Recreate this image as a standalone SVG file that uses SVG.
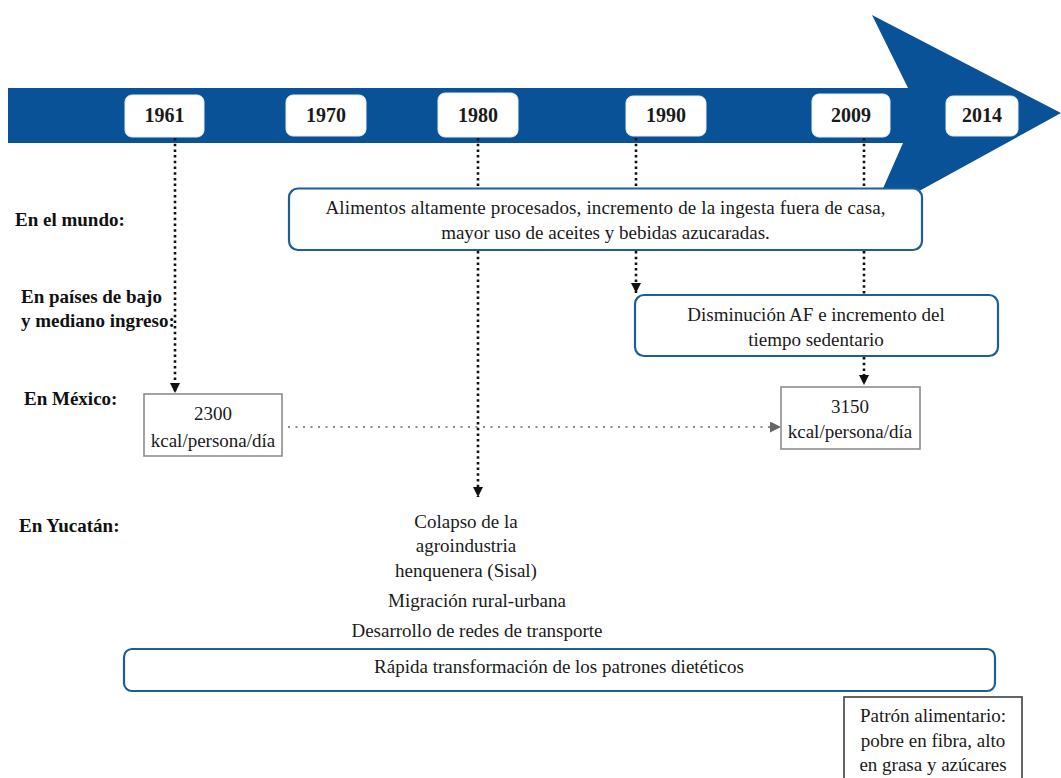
<svg xmlns="http://www.w3.org/2000/svg" width="1061" height="778" viewBox="0 0 1061 778">
<defs>
<style>
.yr{fill:#fff;stroke:#e8eef5;stroke-width:1}
.yt{font-family:"Liberation Serif","Times New Roman",serif;font-weight:bold;font-size:20px;fill:#1a1a1a;text-anchor:middle}
.lb{font-family:"Liberation Serif","Times New Roman",serif;font-weight:bold;font-size:19px;fill:#111}
.tx{font-family:"Liberation Serif","Times New Roman",serif;font-size:19px;fill:#1a1a1a;text-anchor:middle}
.bb{fill:#fff;stroke:#1f5d98;stroke-width:2.2}
.gb{fill:#fff;stroke:#8c8c8c;stroke-width:1.6}
.vd{stroke:#111;stroke-width:2.6;stroke-dasharray:2.5 3.2;fill:none}
.hd{stroke:#8a8a8a;stroke-width:2;stroke-dasharray:2 5.5;fill:none}
</style>
<marker id="ah" viewBox="0 0 10 10" refX="10" refY="5" markerWidth="10" markerHeight="10" markerUnits="userSpaceOnUse" orient="auto">
<path d="M0,0 L10,5 L0,10 Z" fill="#111"/>
</marker>
<marker id="ahg" viewBox="0 0 10 10" refX="10" refY="5" markerWidth="11" markerHeight="11" markerUnits="userSpaceOnUse" orient="auto">
<path d="M0,0 L10,5 L0,10 Z" fill="#666"/>
</marker>
</defs>
<rect width="1061" height="778" fill="#fff"/>

<g id="timeline">
<polygon points="8,88 908,88 872,15 1061,113 870,218 903,143 8,143" fill="#0a5297"/>
</g>

<g id="years">
<g id="y1961"><rect class="yr" x="125" y="95" width="79" height="42" rx="7"/><text class="yt" x="164.5" y="122">1961</text></g>
<g id="y1970"><rect class="yr" x="286" y="95" width="80" height="41" rx="7"/><text class="yt" x="326" y="122">1970</text></g>
<g id="y1980"><rect class="yr" x="438" y="93" width="80" height="44" rx="7"/><text class="yt" x="478" y="122">1980</text></g>
<g id="y1990"><rect class="yr" x="626" y="96" width="80" height="40" rx="7"/><text class="yt" x="666" y="122">1990</text></g>
<g id="y2009"><rect class="yr" x="812" y="94" width="78" height="43" rx="7"/><text class="yt" x="851" y="122">2009</text></g>
<g id="y2014"><rect class="yr" x="946" y="96" width="72" height="40" rx="7"/><text class="yt" x="982" y="122">2014</text></g>
</g>

<g id="connectors">
<line class="vd" x1="175" y1="138" x2="175" y2="393" marker-end="url(#ah)"/>
<line class="vd" x1="478" y1="138" x2="478" y2="188"/>
<line class="vd" x1="478" y1="251" x2="478" y2="497" marker-end="url(#ah)"/>
<line class="vd" x1="636" y1="138" x2="636" y2="188"/>
<line class="vd" x1="636" y1="251" x2="636" y2="293" marker-end="url(#ah)"/>
<line class="vd" x1="864" y1="138" x2="864" y2="188"/>
<line class="vd" x1="864" y1="251" x2="864" y2="294"/>
<line class="vd" x1="864" y1="357" x2="864" y2="385" marker-end="url(#ah)"/>
<line class="hd" x1="288" y1="427" x2="781" y2="427" marker-end="url(#ahg)"/>
</g>

<g id="labels">
<text class="lb" x="15" y="226">En el mundo:</text>
<text class="lb" x="21" y="303">En países de bajo</text>
<text class="lb" x="21" y="327">y mediano ingreso:</text>
<text class="lb" x="24" y="405">En México:</text>
<text class="lb" x="19" y="532">En Yucatán:</text>
</g>

<g id="mundo">
<rect class="bb" x="289" y="188.5" width="633" height="61.5" rx="9"/>
<text class="tx" x="605.5" y="214" textLength="560">Alimentos altamente procesados, incremento de la ingesta fuera de casa,</text>
<text class="tx" x="605.5" y="239">mayor uso de aceites y bebidas azucaradas.</text>
</g>

<g id="paises">
<rect class="bb" x="635" y="295" width="363" height="61" rx="9"/>
<text class="tx" x="816" y="321">Disminución AF e incremento del</text>
<text class="tx" x="816" y="346">tiempo sedentario</text>
</g>

<g id="mx2300">
<rect class="gb" x="144" y="394" width="138" height="62"/>
<text class="tx" x="213" y="420">2300</text>
<text class="tx" x="213" y="447">kcal/persona/día</text>
</g>

<g id="mx3150">
<rect class="gb" x="781" y="387" width="139" height="62"/>
<text class="tx" x="850" y="413">3150</text>
<text class="tx" x="850" y="438">kcal/persona/día</text>
</g>

<g id="yucatan">
<text class="tx" x="466" y="528">Colapso de la</text>
<text class="tx" x="466" y="552">agroindustria</text>
<text class="tx" x="466" y="577">henquenera (Sisal)</text>
<text class="tx" x="477" y="607">Migración rural-urbana</text>
<text class="tx" x="477" y="637">Desarrollo de redes de transporte</text>
</g>

<g id="rapida">
<rect class="bb" x="124" y="649" width="871" height="42" rx="8"/>
<text class="tx" x="559" y="673">Rápida transformación de los patrones dietéticos</text>
</g>

<g id="patron">
<rect x="844" y="697" width="178" height="100" fill="#fff" stroke="#555" stroke-width="1.8"/>
<text class="tx" x="933" y="722">Patrón alimentario:</text>
<text class="tx" x="933" y="747">pobre en fibra, alto</text>
<text class="tx" x="933" y="771">en grasa y azúcares</text>
</g>
</svg>
